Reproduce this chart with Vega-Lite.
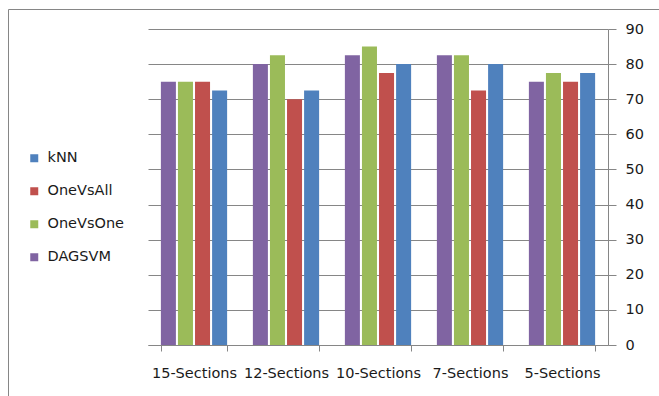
{
  "$schema": "https://vega.github.io/schema/vega-lite/v6.json",
  "width": 460,
  "height": 316,
  "autosize": {"type": "none"},
  "padding": {"left": 148, "top": 29, "right": 51, "bottom": 51},
  "background": "white",
  "config": {
    "view": {"stroke": null},
    "font": "DejaVu Sans",
    "axis": {"labelFont": "DejaVu Sans", "labelColor": "#1a1a1a", "labelFontSize": 14.5}
  },
  "data": {
    "values": [
      {"section": "15-Sections", "method": "DAGSVM", "accuracy": 75},
      {"section": "15-Sections", "method": "OneVsOne", "accuracy": 75},
      {"section": "15-Sections", "method": "OneVsAll", "accuracy": 75},
      {"section": "15-Sections", "method": "kNN", "accuracy": 72.5},
      {"section": "12-Sections", "method": "DAGSVM", "accuracy": 80},
      {"section": "12-Sections", "method": "OneVsOne", "accuracy": 82.5},
      {"section": "12-Sections", "method": "OneVsAll", "accuracy": 70},
      {"section": "12-Sections", "method": "kNN", "accuracy": 72.5},
      {"section": "10-Sections", "method": "DAGSVM", "accuracy": 82.5},
      {"section": "10-Sections", "method": "OneVsOne", "accuracy": 85},
      {"section": "10-Sections", "method": "OneVsAll", "accuracy": 77.5},
      {"section": "10-Sections", "method": "kNN", "accuracy": 80},
      {"section": "7-Sections", "method": "DAGSVM", "accuracy": 82.5},
      {"section": "7-Sections", "method": "OneVsOne", "accuracy": 82.5},
      {"section": "7-Sections", "method": "OneVsAll", "accuracy": 72.5},
      {"section": "7-Sections", "method": "kNN", "accuracy": 80},
      {"section": "5-Sections", "method": "DAGSVM", "accuracy": 75},
      {"section": "5-Sections", "method": "OneVsOne", "accuracy": 77.5},
      {"section": "5-Sections", "method": "OneVsAll", "accuracy": 75},
      {"section": "5-Sections", "method": "kNN", "accuracy": 77.5}
    ]
  },
  "mark": {"type": "bar", "strokeWidth": 0},
  "encoding": {
    "x": {
      "field": "section",
      "type": "nominal",
      "sort": ["15-Sections", "12-Sections", "10-Sections", "7-Sections", "5-Sections"],
      "scale": {"paddingInner": 0.28, "paddingOuter": 0.14},
      "axis": {
        "title": null,
        "labelAngle": 0,
        "tickBand": "extent",
        "domainColor": "#868686",
        "tickColor": "#868686",
        "tickSize": 6,
        "labelPadding": 15
      }
    },
    "xOffset": {
      "field": "method",
      "type": "nominal",
      "sort": ["DAGSVM", "OneVsOne", "OneVsAll", "kNN"],
      "scale": {"paddingInner": 0.12}
    },
    "y": {
      "field": "accuracy",
      "type": "quantitative",
      "scale": {"domain": [0, 90], "nice": false},
      "axis": {
        "title": null,
        "orient": "right",
        "values": [0, 10, 20, 30, 40, 50, 60, 70, 80, 90],
        "grid": true,
        "gridColor": "#868686",
        "domainColor": "#868686",
        "tickColor": "#868686",
        "tickSize": 8,
        "labelPadding": 9
      }
    },
    "color": {
      "field": "method",
      "type": "nominal",
      "scale": {
        "domain": ["kNN", "OneVsAll", "OneVsOne", "DAGSVM"],
        "range": ["#4F81BD", "#C0504D", "#9BBB59", "#8064A2"]
      },
      "legend": {
        "title": null,
        "orient": "none",
        "legendX": -121,
        "legendY": 122,
        "padding": 0,
        "symbolType": "square",
        "symbolSize": 64,
        "symbolStrokeWidth": 0,
        "labelFont": "DejaVu Sans",
        "labelFontSize": 14.5,
        "labelColor": "#1a1a1a",
        "labelOffset": 6,
        "rowPadding": 18
      }
    },
    "strokeDash": {
      "field": "section",
      "type": "nominal",
      "legend": {
        "title": null,
        "orient": "none",
        "legendX": -140,
        "legendY": -20,
        "padding": 800,
        "strokeColor": "#868686",
        "symbolOpacity": 0,
        "labelExpr": "''",
        "encode": {"legend": {"update": {"strokeWidth": {"value": 2}}}}
      }
    }
  }
}
